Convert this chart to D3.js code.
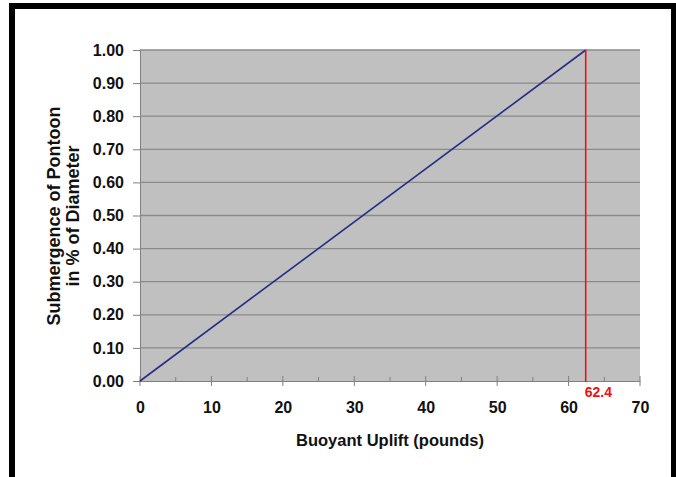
<!DOCTYPE html>
<html><head><meta charset="utf-8">
<script src="https://cdn.jsdelivr.net/npm/d3@7"></script>
<style>body{margin:0;background:#fff}svg{display:block}text{font-family:"Liberation Sans",Arial,sans-serif}</style>
</head><body>
<script>
const lineX = [0, 62.4];
const lineY = [0, 1.0];
const markerX = 62.4;
const markerLabel = "62.4";
const xTicks = [0, 10, 20, 30, 40, 50, 60, 70];
const xMinor = [5, 15, 25, 35, 45, 55, 65];
const yTicks = [0, 0.1, 0.2, 0.3, 0.4, 0.5, 0.6, 0.7, 0.8, 0.9, 1.0];
const xTitle = "Buoyant Uplift (pounds)";
const yTitle = ["Submergence of Pontoon", "in % of Diameter"];

const W = 676, H = 477;
const svg = d3.select("body").append("svg").attr("width", W).attr("height", H);
// frame
svg.append("rect").attr("x", 9).attr("y", 3).attr("width", 6).attr("height", H).attr("fill", "#000");
svg.append("rect").attr("x", 9).attr("y", 3).attr("width", W).attr("height", 6).attr("fill", "#000");
svg.append("rect").attr("x", 671).attr("y", 3).attr("width", 5).attr("height", H).attr("fill", "#000");

const L = 140, R = 640, T = 50, B = 381;
const x = d3.scaleLinear().domain([0, 70]).range([L, R]);
const y = d3.scaleLinear().domain([0, 1]).range([B, T]);

svg.append("rect").attr("x", L).attr("y", T).attr("width", R - L).attr("height", B - T).attr("fill", "#c0c0c0");
svg.selectAll(".grid").data(yTicks.slice(1)).enter().append("line")
  .attr("x1", L).attr("x2", R).attr("y1", d => y(d)).attr("y2", d => y(d))
  .attr("stroke", "#8a8a8a").attr("stroke-width", 1.3);

// y axis
const ya = svg.append("g").attr("transform", `translate(${L},0)`)
  .call(d3.axisLeft(y).tickValues(yTicks).tickFormat(d3.format(".2f")).tickSize(7).tickPadding(9));
ya.select(".domain").attr("stroke", "#808080");
ya.selectAll(".tick line").attr("stroke", "#808080");
ya.selectAll("text").attr("font-size", 16).attr("font-weight", "bold").attr("fill", "#111");

// x axis
const xa = svg.append("g").attr("transform", `translate(0,${B})`)
  .call(d3.axisBottom(x).tickValues(xTicks).tickFormat(d3.format("d")).tickSize(0).tickPadding(21));
xa.select(".domain").attr("stroke", "#808080");
xa.selectAll("text").attr("font-size", 16).attr("font-weight", "bold").attr("fill", "#111");
svg.selectAll(".xmaj").data(xTicks).enter().append("line")
  .attr("x1", d => x(d)).attr("x2", d => x(d)).attr("y1", B - 5).attr("y2", B + 5)
  .attr("stroke", "#808080");
svg.selectAll(".xmin").data(xMinor).enter().append("line")
  .attr("x1", d => x(d)).attr("x2", d => x(d)).attr("y1", B - 4).attr("y2", B + 1)
  .attr("stroke", "#808080");

// data line
svg.append("path").datum(lineX.map((d, i) => [d, lineY[i]]))
  .attr("d", d3.line().x(d => x(d[0])).y(d => y(d[1])))
  .attr("fill", "none").attr("stroke", "#2a2a85").attr("stroke-width", 1.6);

// marker
svg.append("line").attr("x1", x(markerX)).attr("x2", x(markerX)).attr("y1", y(1)).attr("y2", B + 1)
  .attr("stroke", "#ee1111").attr("stroke-width", 1.6);
svg.append("text").attr("x", x(markerX) - 1).attr("y", B + 16).attr("text-anchor", "start")
  .attr("font-size", 14).attr("font-weight", "bold").attr("fill", "#ee1111").text(markerLabel);

// titles
svg.append("text").attr("x", (L + R) / 2).attr("y", 446).attr("text-anchor", "middle")
  .attr("font-size", 16.5).attr("font-weight", "bold").attr("fill", "#111").text(xTitle);
yTitle.forEach((t, i) => {
  svg.append("text").attr("transform", `translate(${60 + i * 19},216) rotate(-90)`)
    .attr("text-anchor", "middle").attr("font-size", 18).attr("font-weight", "bold").attr("fill", "#111").text(t);
});
</script>
</body></html>
